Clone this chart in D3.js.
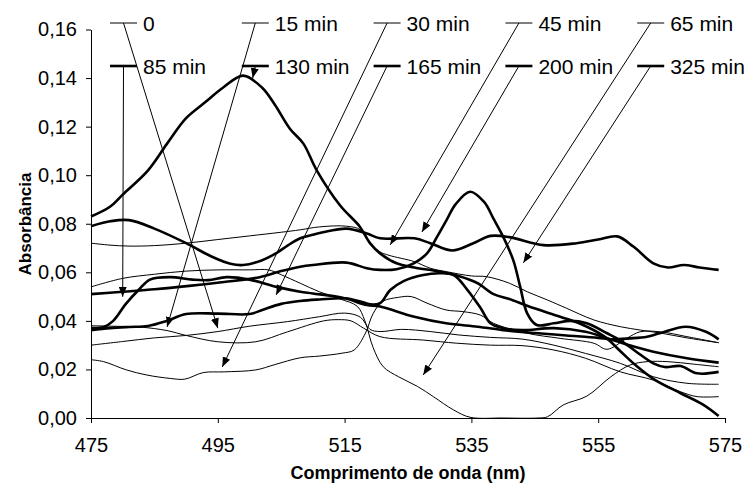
<!DOCTYPE html>
<html>
<head>
<meta charset="utf-8">
<script src="https://cdn.jsdelivr.net/npm/d3@7"></script>
<style>
  body { margin: 0; background: #fff; }
  svg { font-family: "Liberation Sans", Arial, sans-serif; }
</style>
</head>
<body>
<svg width="754" height="487"></svg>
<script>
// absorbance spectra, [wavelength nm, absorbance]
const s0 = [[475,0.030],[480,0.0315],[485,0.033],[490,0.034],[495,0.0356],[500,0.0378],[506,0.0397],[511,0.0417],[515,0.0432],[517.5,0.0415],[519,0.0365],[520.6,0.0356],[524,0.0365],[528.5,0.0356],[533,0.0342],[538,0.0332],[543,0.0325],[548,0.030],[553,0.0266],[558.5,0.0225],[563.7,0.017],[569,0.0143],[574,0.0139]];
const s15 = [[475,0.038],[480,0.0377],[483,0.0374],[487,0.036],[490,0.034],[495,0.0314],[501,0.0314],[506,0.0355],[511.7,0.040],[514,0.0405],[516,0.040],[518,0.037],[520.6,0.0335],[527.4,0.0321],[532.7,0.0308],[538,0.030],[543,0.0298],[548,0.028],[553,0.0246],[558.5,0.019],[563.7,0.0156],[568,0.0108],[570.6,0.0088],[574,0.0088]];
const s30 = [[475,0.024],[477,0.0232],[480.6,0.0198],[483.8,0.0177],[487.5,0.0163],[489.8,0.016],[492.7,0.0187],[496,0.019],[501,0.0198],[504,0.022],[508,0.0248],[511,0.0255],[514.6,0.0267],[516.5,0.028],[518.3,0.035],[519.5,0.043],[521,0.048],[523.5,0.0497],[525.5,0.050],[528,0.0473],[531,0.0445],[533.7,0.0438],[536.4,0.0424],[538.5,0.039],[543.8,0.0349],[549,0.0328],[554.3,0.0308],[556.4,0.0283],[559.5,0.0328],[561.6,0.0355],[564.8,0.0355],[569,0.0335],[574,0.031]];
const s45 = [[475,0.072],[478,0.0712],[481,0.0708],[485,0.071],[490,0.072],[495,0.0735],[500,0.075],[505,0.0765],[508,0.0775],[511,0.0787],[515.3,0.079],[517.5,0.0775],[519,0.072],[520.5,0.0685],[522,0.067],[526,0.0644],[528.5,0.0617],[531,0.0603],[535,0.0585],[537.4,0.0582],[541,0.0555],[543.8,0.052],[547,0.0486],[550,0.0452],[554.3,0.0404],[558.5,0.0376],[561.7,0.0362],[565,0.0349],[569,0.033],[574,0.031]];
const s65 = [[475,0.054],[480,0.0575],[485,0.0592],[490,0.0605],[495,0.061],[500,0.061],[503,0.061],[505,0.059],[508,0.0555],[511,0.052],[514.3,0.049],[517,0.046],[518.2,0.040],[519.5,0.029],[521.1,0.0211],[523.5,0.017],[526.5,0.013],[529,0.0088],[532.2,0.0033],[534.8,0.0003],[540,0],[545.5,0],[547,0.0005],[549.5,0.0054],[553.2,0.009],[557,0.017],[560,0.0218],[562.7,0.0232],[566,0.0232],[570,0.0222],[574,0.0211]];
const s85 = [[475,0.037],[477,0.0375],[478.5,0.040],[480.5,0.047],[482.5,0.0527],[484.3,0.057],[487.5,0.058],[491,0.057],[493.5,0.0568],[496.4,0.058],[500,0.057],[504.3,0.054],[508,0.052],[510,0.0513],[515,0.0493],[518.5,0.0465],[520.6,0.0459],[526,0.0417],[531,0.039],[536,0.0376],[540,0.0362],[545,0.035],[550,0.034],[555,0.033],[557,0.0324],[560,0.0328],[562.7,0.0335],[564.7,0.0349],[568.8,0.0376],[572,0.0355],[574,0.0324]];
const s130 = [[475,0.083],[478,0.087],[480,0.092],[484,0.102],[487,0.113],[490,0.1235],[493,0.130],[495.8,0.136],[499,0.141],[502,0.136],[504,0.129],[506.4,0.119],[508.5,0.113],[510.6,0.102],[514.3,0.0875],[517.4,0.0788],[519,0.072],[520.6,0.0678],[523.2,0.0637],[526,0.062],[530,0.0603],[533,0.0585],[536,0.0555],[538.5,0.051],[541,0.049],[544,0.046],[549,0.0417],[552,0.039],[556,0.0335],[558.5,0.0275],[561,0.0215],[564,0.0156],[568,0.0102],[571.6,0.0054],[574,0.0008]];
const s165 = [[475,0.0362],[478,0.037],[481,0.0375],[484,0.0379],[487,0.040],[490,0.0428],[495,0.043],[500,0.0428],[502,0.0445],[505,0.047],[508,0.0482],[511,0.0488],[515,0.0493],[517.5,0.048],[519,0.0468],[520.6,0.0473],[522.2,0.0527],[524.3,0.0564],[527.4,0.0589],[530,0.0596],[532.2,0.0589],[534.3,0.053],[536.4,0.0455],[538,0.039],[540,0.037],[543,0.0362],[548,0.037],[553,0.0355],[557.4,0.032],[560.6,0.0294],[563.7,0.0273],[569,0.0246],[574,0.0228]];
const s200 = [[475,0.079],[478,0.081],[481,0.0815],[485,0.078],[490,0.072],[494,0.0665],[497,0.0635],[499,0.063],[502,0.065],[504.3,0.068],[506,0.071],[508,0.074],[510,0.0755],[512.5,0.077],[515.3,0.078],[518.5,0.076],[520.6,0.074],[526,0.074],[528.5,0.072],[532,0.069],[535.3,0.072],[538,0.075],[541,0.0745],[546.4,0.0712],[551.6,0.072],[555,0.0735],[558,0.0748],[560.6,0.0705],[563.7,0.0637],[566,0.062],[568.5,0.063],[571,0.062],[574,0.061]];
const s325 = [[475,0.051],[480,0.052],[485,0.053],[490.5,0.0544],[496,0.056],[501.6,0.058],[505,0.0605],[508,0.0623],[510,0.063],[515.3,0.064],[518.5,0.0617],[520.6,0.061],[523.2,0.0613],[525.9,0.0637],[528,0.0678],[529.6,0.0747],[531.1,0.0816],[532.5,0.088],[534.8,0.0932],[537,0.089],[538.5,0.082],[540,0.0747],[541.6,0.065],[542.7,0.054],[543.8,0.0431],[545.3,0.0383],[548,0.039],[550.6,0.040],[553.2,0.039],[556.4,0.0349],[558.5,0.032],[561,0.0273],[563.7,0.0225],[565.5,0.021],[568,0.0214],[570.6,0.0184],[574,0.019]];

const seriesNames = ["0", "15 min", "30 min", "45 min", "65 min", "85 min", "130 min", "165 min", "200 min", "325 min"];
const seriesData = [s0, s15, s30, s45, s65, s85, s130, s165, s200, s325];
// where each legend leader points, [wavelength, absorbance]
const arrowTips = [[495,0.037],[487,0.0375],[495.7,0.021],[522.2,0.0713],[527.4,0.0177],[480,0.0499],[500.5,0.140],[504.2,0.0507],[527.2,0.0766],[543.2,0.0639]];
const xTicks = [475, 495, 515, 535, 555, 575];
const yTicks = [0, 0.02, 0.04, 0.06, 0.08, 0.10, 0.12, 0.14, 0.16];

const svg = d3.select("svg");
const x = d3.scaleLinear().domain([475, 575]).range([91, 725]);
const y = d3.scaleLinear().domain([0, 0.16]).range([418, 29.5]);

function isThick(i) { return i >= 5; }

function drawAxes() {
    const fmt = d3.format(".2f");
    const yAxis = svg.append("g")
        .attr("transform", "translate(91,0)")
        .call(d3.axisLeft(y).tickValues(yTicks).tickSize(5).tickSizeOuter(0).tickPadding(9)
            .tickFormat(d => fmt(d).replace(".", ",")));
    const xAxis = svg.append("g")
        .attr("transform", "translate(0,418)")
        .call(d3.axisBottom(x).tickValues(xTicks).tickSize(5).tickSizeOuter(0).tickPadding(15)
            .tickFormat(d3.format("d")));
    [xAxis, yAxis].forEach(g => {
        g.attr("font-family", null).attr("font-size", null);
        g.selectAll("text").attr("font-size", "20px").attr("fill", "#000");
        g.selectAll("line, path").attr("stroke", "#000").attr("stroke-width", 1);
    });
    svg.append("text")
        .attr("x", 408)
        .attr("y", 479)
        .attr("text-anchor", "middle")
        .attr("font-weight", "bold")
        .attr("font-size", "18px")
        .text("Comprimento de onda (nm)");
    svg.append("text")
        .attr("transform", "translate(31,224) rotate(-90)")
        .attr("text-anchor", "middle")
        .attr("font-weight", "bold")
        .attr("font-size", "17px")
        .text("Absorbância");
}

function drawCurves() {
    const line = d3.line()
        .x(d => x(d[0]))
        .y(d => y(d[1]))
        .curve(d3.curveCatmullRom.alpha(0.5));
    svg.append("g")
        .selectAll("path").data(seriesData).enter()
        .append("path")
        .attr("d", d => line(d))
        .attr("fill", "none")
        .attr("stroke", "#000")
        .attr("stroke-width", (d, i) => isThick(i) ? 2.6 : 1)
        .attr("stroke-linejoin", "round");
}

function drawLegend() {
    svg.append("defs").append("marker")
        .attr("id", "head")
        .attr("markerUnits", "userSpaceOnUse")
        .attr("markerWidth", 10)
        .attr("markerHeight", 8)
        .attr("refX", 10)
        .attr("refY", 4)
        .attr("orient", "auto")
        .append("path")
        .attr("d", "M0,0L10,4L0,8Z")
        .attr("fill", "#000");

    const colX = i => 110 + (i % 5) * 131.8;
    const rowY = i => i < 5 ? 23 : 66;

    seriesNames.forEach((name, i) => {
        const x0 = colX(i), y0 = rowY(i);
        // leader line from the key sample to the curve
        svg.append("line")
            .attr("x1", x0 + 13.5)
            .attr("y1", y0)
            .attr("x2", x(arrowTips[i][0]))
            .attr("y2", y(arrowTips[i][1]))
            .attr("stroke", "#000")
            .attr("stroke-width", 1)
            .attr("marker-end", "url(#head)");
        svg.append("line")
            .attr("x1", x0)
            .attr("x2", x0 + 27)
            .attr("y1", y0)
            .attr("y2", y0)
            .attr("stroke", "#000")
            .attr("stroke-width", isThick(i) ? 2.6 : 1);
        svg.append("text")
            .attr("x", x0 + 33)
            .attr("y", y0 + 7.5)
            .attr("font-size", "21px")
            .text(name);
    });
}

drawAxes();
drawCurves();
drawLegend();
</script>
</body>
</html>
